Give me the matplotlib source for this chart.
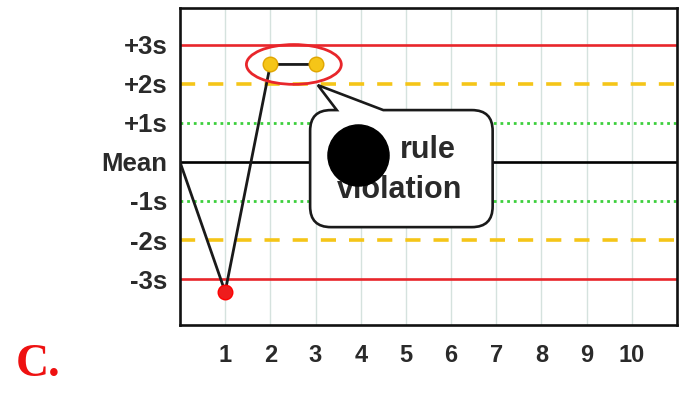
import matplotlib
matplotlib.use("Agg")
import matplotlib.pyplot as plt
from matplotlib.patches import Ellipse, PathPatch
from matplotlib.path import Path

# control levels (in SD units) and their labels
levels = [3, 2, 1, 0, -1, -2, -3]
level_labels = ["+3s", "+2s", "+1s", "Mean", "-1s", "-2s", "-3s"]
run_ticks = [1, 2, 3, 4, 5, 6, 7, 8, 9, 10]

# QC run values (SD units)
run_x = [0, 1, 2, 3]
run_y = [0.0, -3.33, 2.5, 2.5]
point_colors = ["none", "#ee1c1c", "#f5c518", "#f5c518"]

RED = "#e8262b"
YELLOW = "#f5c518"
GREEN = "#3ccf3c"
TXT = "#2a2a2a"

fig = plt.figure(figsize=(6.99, 3.94), dpi=100)
ax = fig.add_axes([0.2575, 0.175, 0.711, 0.805])
ax.set_xlim(0, 11)
ax.set_ylim(-4.18, 3.95)

# vertical grid
for g in run_ticks:
    ax.axvline(g, color="#d5e2de", lw=1.0, zorder=1)

# control limit lines
ax.axhline(3, color=RED, lw=1.9, zorder=2)
ax.axhline(-3, color=RED, lw=1.9, zorder=2)
for v in (2, -2):
    ln = ax.axhline(v, color=YELLOW, lw=2.6, zorder=2)
    ln.set_dashes((4.2, 3.6))
for v in (1, -1):
    ln = ax.axhline(v, color=GREEN, lw=2.0, zorder=2)
    ln.set_dashes((1.0, 1.4))
ax.axhline(0, color="black", lw=1.9, zorder=2)

# data line and points
ax.plot(run_x, run_y, color="#1a1a1a", lw=2.0, zorder=3)
for x, y, c in zip(run_x, run_y, point_colors):
    if c == "none":
        continue
    ec = "#ff0000" if c == "#ee1c1c" else "#e0a500"
    ax.plot(x, y, "o", ms=10.5, mfc=c, mec=ec, mew=1.0, zorder=4)

# red ellipse around the two points
ax.add_patch(Ellipse((2.52, 2.5), 2.1, 1.02, fill=False, ec=RED, lw=2.0, zorder=5))

# speech-bubble callout
x0, x1, y0, y1 = 2.88, 6.92, -1.67, 1.33
rx, ry = 0.46, 0.53
bx1, bx2 = 3.47, 4.5
tip = (3.05, 1.97)
verts = [(x0 + rx, y1), (bx1, y1), tip, (bx2, y1), (x1 - rx, y1),
         (x1, y1), (x1, y1 - ry), (x1, y0 + ry),
         (x1, y0), (x1 - rx, y0), (x0 + rx, y0),
         (x0, y0), (x0, y0 + ry), (x0, y1 - ry),
         (x0, y1), (x0 + rx, y1), (x0 + rx, y1)]
codes = [Path.MOVETO, Path.LINETO, Path.LINETO, Path.LINETO, Path.LINETO,
         Path.CURVE3, Path.CURVE3, Path.LINETO,
         Path.CURVE3, Path.CURVE3, Path.LINETO,
         Path.CURVE3, Path.CURVE3, Path.LINETO,
         Path.CURVE3, Path.CURVE3, Path.CLOSEPOLY]
ax.add_patch(PathPatch(Path(verts, codes), fc="white", ec="#1a1a1a", lw=1.9, zorder=6))
ax.text(5.49, 0.31, "rule", ha="center", va="center", fontsize=22,
        fontweight="bold", family="Liberation Sans", color=TXT, zorder=7)
ax.text(4.87, -0.72, "violation", ha="center", va="center", fontsize=22,
        fontweight="bold", family="Liberation Sans", color=TXT, zorder=7)
ax.plot(3.94, 0.18, "o", ms=44, color="black", zorder=8)

# axes styling
for s in ax.spines.values():
    s.set_linewidth(1.9)
    s.set_color("#111111")
ax.set_yticks(levels)
ax.set_yticklabels(level_labels, fontsize=18.5, fontweight="bold",
                   family="Liberation Sans", color=TXT)
ax.set_xticks(run_ticks)
ax.set_xticklabels([str(t) for t in run_ticks], fontsize=17, fontweight="bold",
                   family="Liberation Sans", color=TXT)
ax.tick_params(axis="y", length=0, pad=9)
ax.tick_params(axis="x", length=0, pad=14)

fig.text(0.022, 0.045, "C.", color="#ee1111", fontsize=33, fontweight="bold",
         family="Liberation Serif")

fig.savefig("out.png", dpi=100)
